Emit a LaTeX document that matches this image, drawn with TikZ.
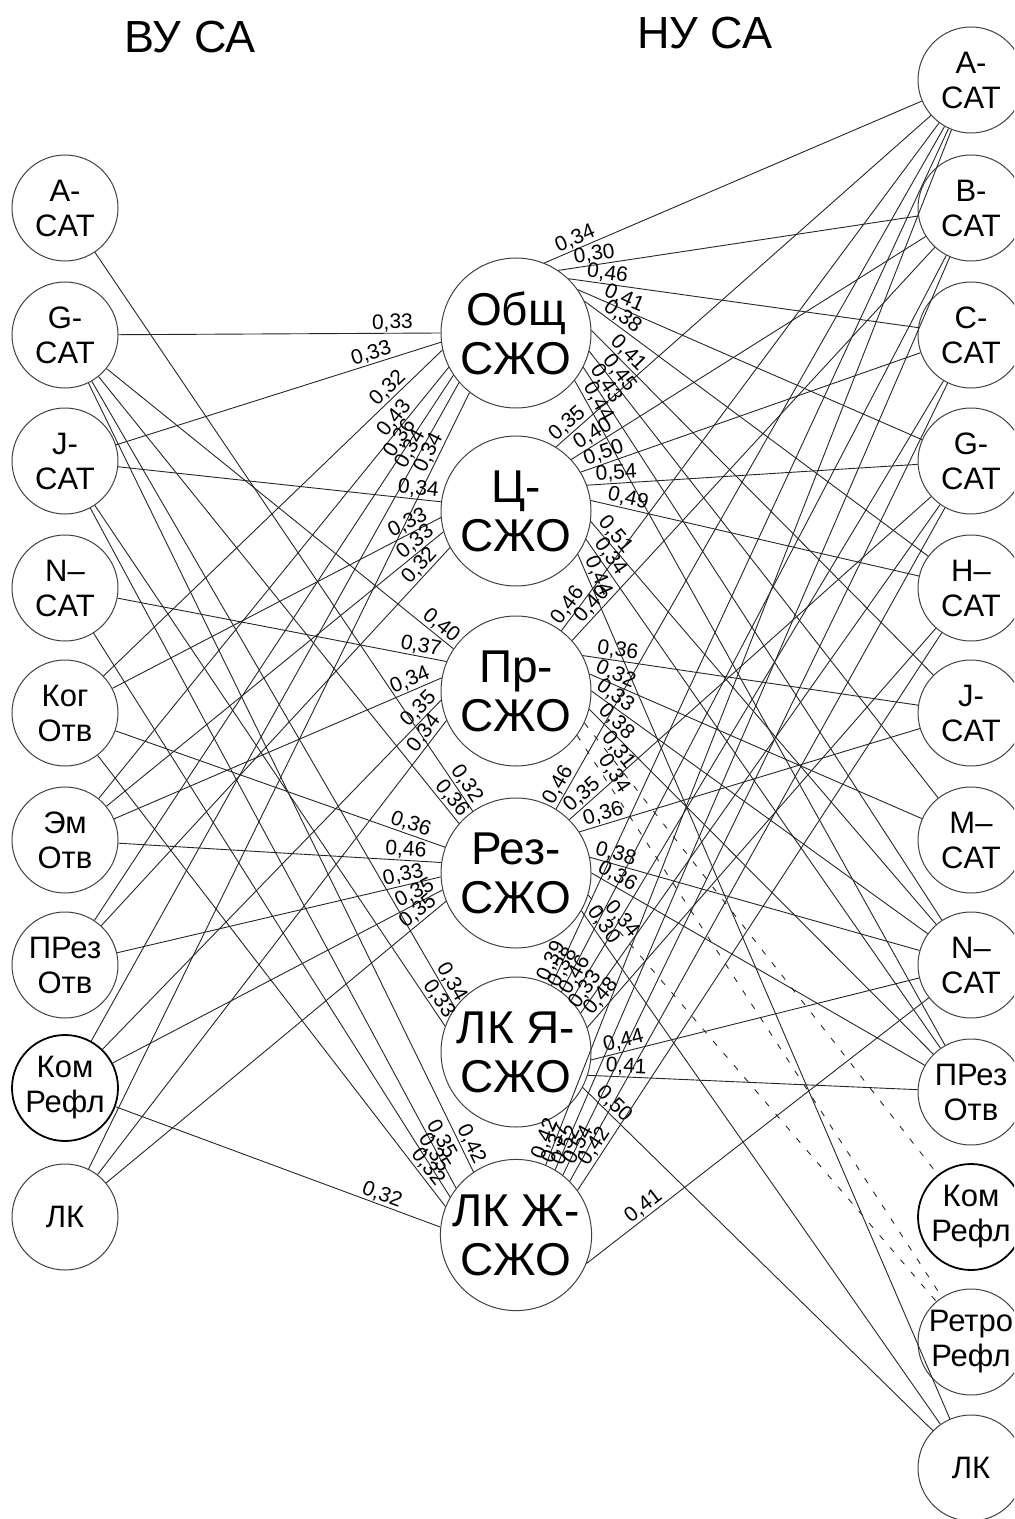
\documentclass[tikz,border=0pt]{standalone}
\usepackage{fontspec}
\setmainfont{Liberation Sans}
\usetikzlibrary{calc}

\newlength{\labdist}
\setlength{\labdist}{14pt}

% left node -> middle node (at border angle #4), weight next to the middle node
\newcommand{\lw}[5][]{%
  \begin{scope}[#1]
  \draw[lnk] (#2) -- (#3.#4);
  \path let \p1=(#2), \p2=(#3.#4), \n1={atan2(\y2-\y1,\x2-\x1)} in
    ($(#3.#4)!\labdist!(#2)$) node[wt, rotate=\n1] {#5};
  \end{scope}}
% middle node (at border angle #3) -> right node
\newcommand{\rw}[5][]{%
  \begin{scope}[#1]
  \draw[lnk] (#2.#3) -- (#4);
  \path let \p1=(#2.#3), \p2=(#4), \n1={atan2(\y2-\y1,\x2-\x1)} in
    ($(#2.#3)!\labdist!(#4)$) node[wt, rotate=\n1] {#5};
  \end{scope}}

\begin{document}
\begin{tikzpicture}[x=0.5pt, y=-0.5pt,
  small/.style={circle, draw=black!75, line width=0.5pt, minimum size=53pt, inner sep=0pt, align=center, font=\fontsize{15.5}{17.5}\selectfont},
  kom/.style={small, draw=black, line width=0.9pt},
  big/.style={circle, draw=black!75, line width=0.5pt, minimum size=75pt, inner sep=0pt, align=center, font=\fontsize{23}{24.5}\selectfont},
  wt/.style={anchor=south, inner sep=0.6pt, font=\fontsize{10.5}{11}\selectfont},
  lnk/.style={line width=0.45pt, black!85},
  ld/.code={\setlength{\labdist}{#1}},
  dsh/.style={dash pattern=on 3pt off 5pt},
  title/.style={font=\fontsize{22.5}{24}\selectfont}]
\clip (0,0) rectangle (1014,1519);

\node[title] (vu) at (190,37) {ВУ СА};
\node[title] (nu) at (705,33) {НУ СА};

\node[small] (lA)    at (65,208)  {A-\\CAT};
\node[small] (lG)    at (65,335)  {G-\\CAT};
\node[small] (lJ)    at (65,461)  {J-\\CAT};
\node[small] (lN)    at (65,588)  {N–\\CAT};
\node[small] (lKog)  at (65,713)  {Ког\\Отв};
\node[small] (lEm)   at (65,840)  {Эм\\Отв};
\node[small] (lPRez) at (65,965)  {ПРез\\Отв};
\node[kom]   (lKom)  at (65,1088) {Ком\\Рефл};
\node[small] (lLK)   at (65,1217) {ЛК};

\node[big] (obsh) at (516,333)  {Общ\\СЖО};
\node[big] (cz)   at (516,511)  {Ц-\\СЖО};
\node[big] (pr)   at (516,691)  {Пр-\\СЖО};
\node[big] (rez)  at (516,873)  {Рез-\\СЖО};
\node[big] (lkya) at (516,1052) {ЛК Я-\\СЖО};
\node[big] (lkzh) at (516,1235) {ЛК Ж-\\СЖО};

\node[small] (rA)     at (971,80)   {A-\\CAT};
\node[small] (rB)     at (971,208)  {B-\\CAT};
\node[small] (rC)     at (971,335)  {C-\\CAT};
\node[small] (rG)     at (971,461)  {G-\\CAT};
\node[small] (rH)     at (971,588)  {H–\\CAT};
\node[small] (rJ)     at (971,713)  {J-\\CAT};
\node[small] (rM)     at (971,840)  {M–\\CAT};
\node[small] (rN)     at (971,965)  {N–\\CAT};
\node[small] (rPRez)  at (971,1092) {ПРез\\Отв};
\node[kom]   (rKom)   at (971,1217) {Ком\\Рефл};
\node[small] (rRetro) at (971,1342) {Ретро\\Рефл};
\node[small] (rLK)    at (971,1468) {ЛК};

\lw[ld=24pt]{lG}{obsh}{180}{0,33}
\lw[ld=35pt]{lJ}{obsh}{187}{0,33}
\lw[ld=33pt]{lKog}{obsh}{193}{0,32}
\lw[ld=37pt]{lEm}{obsh}{207}{0,43}
\lw[ld=41pt]{lPRez}{obsh}{214}{0,36}
\lw[ld=41pt]{lKom}{obsh}{221}{0,34}
\lw[ld=36pt]{lLK}{obsh}{232}{0,34}
\lw[ld=12pt]{lJ}{cz}{173}{0,34}
\lw[ld=16pt]{lKog}{cz}{185}{0,33}
\lw[ld=14pt]{lEm}{cz}{196}{0,33}
\lw[ld=17pt]{lPRez}{cz}{209}{0,32}
\lw[ld=12pt]{lG}{pr}{146}{0,40}
\lw[ld=14pt]{lN}{pr}{157}{0,37}
\lw[ld=15pt]{lEm}{pr}{170}{0,34}
\lw[ld=11pt]{lKom}{pr}{187}{0,35}
\lw[ld=12pt]{lLK}{pr}{203}{0,34}
\lw[ld=13pt]{lA}{rez}{125}{0,32}
\lw[ld=12pt]{lG}{rez}{139}{0,36}
\lw[ld=20pt]{lKog}{rez}{160}{0,36}
\lw[ld=18pt]{lEm}{rez}{172}{0,46}
\lw[ld=18pt]{lPRez}{rez}{183}{0,33}
\lw[ld=13pt]{lKom}{rez}{193}{0,35}
\lw[ld=14pt]{lLK}{rez}{202}{0,35}
\lw[ld=12pt]{lG}{lkya}{144}{0,34}
\lw[ld=13pt]{lJ}{lkya}{160}{0,33}
\lw[ld=13pt]{lG}{lkzh}{124}{0,42}
\lw[ld=25pt]{lJ}{lkzh}{142}{0,35}
\lw[ld=23pt]{lN}{lkzh}{150}{0,35}
\lw[ld=21pt]{lKog}{lkzh}{158}{0,32}
\lw[ld=33pt]{lKom}{lkzh}{174}{0,32}

\rw[ld=19pt]{obsh}{68}{rA}{0,34}
\rw[ld=19pt]{obsh}{56}{rB}{0,30}
\rw[ld=19pt]{obsh}{46}{rC}{0,46}
\rw[ld=23pt]{obsh}{35}{rG}{0,41}
\rw[ld=20pt]{obsh}{25}{rH}{0,38}
\rw[ld=21pt]{obsh}{2}{rJ}{0,41}
\rw[ld=18pt]{obsh}{-14}{rM}{0,45}
\rw[ld=13pt]{obsh}{-27}{rN}{0,43}
\rw[ld=15pt]{obsh}{-39}{rPRez}{0,44}
\rw[ld=12pt]{cz}{58}{rA}{0,35}
\rw[ld=16pt]{cz}{43}{rB}{0,40}
\rw[ld=14pt]{cz}{31}{rC}{0,50}
\rw[ld=15pt]{cz}{20}{rG}{0,54}
\rw[ld=18pt]{cz}{8}{rH}{0,49}
\rw[ld=13pt]{cz}{-8}{rN}{0,51}
\rw[ld=14pt]{cz}{-22}{rPRez}{0,34}
\rw[ld=14pt]{cz}{-35}{rLK}{0,44}
\rw[ld=12pt]{pr}{53}{rA}{0,46}
\rw[ld=20pt]{pr}{42}{rB}{0,40}
\rw[ld=17pt]{pr}{28}{rJ}{0,36}
\rw[ld=12pt]{pr}{13}{rM}{0,32}
\rw[ld=11pt]{pr}{0}{rN}{0,33}
\rw[ld=14pt]{pr}{-14}{rPRez}{0,38}
\rw[dsh,ld=21pt]{pr}{-25}{rKom}{0,31}
\rw[dsh,ld=26pt]{pr}{-36}{rRetro}{0,34}
\rw[ld=11pt]{rez}{58}{rA}{0,46}
\rw[ld=13pt]{rez}{45}{rG}{0,35}
\rw[ld=14pt]{rez}{33}{rJ}{0,36}
\rw[ld=12pt]{rez}{12}{rN}{0,38}
\rw[ld=12pt]{rez}{0}{rPRez}{0,36}
\rw[dsh,ld=20pt]{rez}{-17}{rRetro}{0,34}
\rw[ld=12pt]{rez}{-30}{rLK}{0,30}
\rw[ld=11pt]{lkya}{62}{rA}{0,39}
\rw[ld=11pt]{lkya}{53}{rB}{0,38}
\rw[ld=12pt]{lkya}{43}{rC}{0,46}
\rw[ld=11pt]{lkya}{31}{rG}{0,33}
\rw[ld=16pt]{lkya}{19}{rH}{0,48}
\rw[ld=18pt]{lkya}{-6}{rN}{0,44}
\rw[ld=19pt]{lkya}{-18}{rPRez}{0,41}
\rw[ld=17pt]{lkya}{-28}{rLK}{0,50}
\rw[ld=12pt]{lkzh}{67}{rA}{0,42}
\rw[ld=12pt]{lkzh}{59}{rB}{0,37}
\rw[ld=14pt]{lkzh}{52}{rC}{0,52}
\rw[ld=18pt]{lkzh}{45}{rG}{0,54}
\rw[ld=23pt]{lkzh}{36}{rH}{0,42}
\rw[ld=40pt]{lkzh}{-22}{rN}{0,41}
\end{tikzpicture}
\end{document}
